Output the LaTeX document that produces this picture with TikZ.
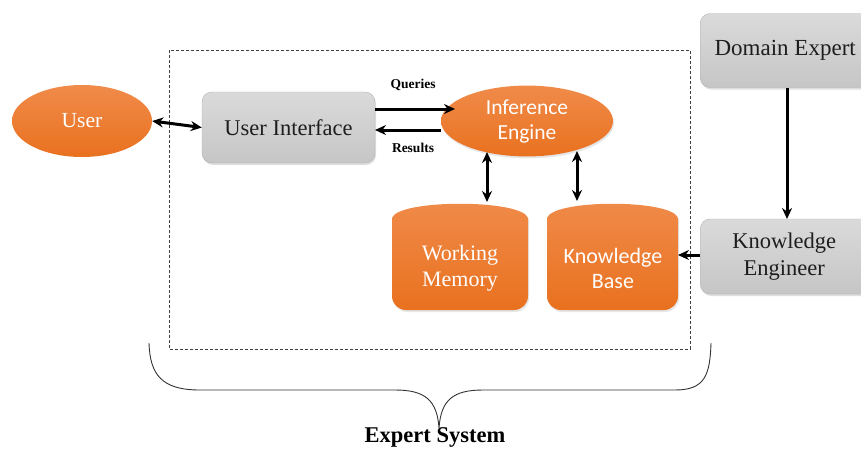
\documentclass[tikz,border=0pt]{standalone}
\usepackage{fontspec}
\setmainfont{Liberation Serif}
\newfontfamily\calfont{Carlito}
\usetikzlibrary{arrows.meta,shadows,shapes.geometric}
\definecolor{orng}{HTML}{ED7D31}
\definecolor{orngL}{HTML}{F08B4A}
\definecolor{orngD}{HTML}{E9711F}
\definecolor{grayT}{HTML}{DADADA}
\definecolor{grayB}{HTML}{C6C6C6}
\definecolor{txtD}{HTML}{1E1E1E}
\tikzset{
  graybox/.style={rounded corners=10pt, top color=grayT, bottom color=grayB, draw=grayB!90!black,
    line width=0.4pt, text=txtD, font=\fontsize{22.5}{26}\selectfont, align=center,
    drop shadow={opacity=0.25, shadow xshift=1pt, shadow yshift=-2pt}},
  orell/.style={ellipse, top color=orngL, bottom color=orngD, draw=none, text=white, align=center},
  arr/.style={line width=3pt, -{Stealth[length=11pt,width=10pt]}},
  darr/.style={line width=3pt, {Stealth[length=11pt,width=10pt]}-{Stealth[length=11pt,width=10pt]}},
  lbl/.style={font=\bfseries\fontsize{13.5}{15}\selectfont, text=black},
  cyl/.style={top color=orngL, bottom color=orngD, draw=none,
    drop shadow={opacity=0.2, shadow xshift=1pt, shadow yshift=-2pt}},
}
\begin{document}
\begin{tikzpicture}[x=1pt,y=-1pt]
\useasboundingbox (0,0) rectangle (861,450);
\clip (0,0) rectangle (861,450);
% dashed system boundary
\draw[dashed, dash pattern=on 3pt off 2pt, line width=0.8pt, draw=black!75] (169,50) rectangle (690,349);
% User
\node[orell, minimum width=140pt, minimum height=72pt, font=\fontsize{21.5}{25}\selectfont] (user) at (82,121) {User};
% User interface
\node[graybox, minimum width=173pt, minimum height=71pt] (ui) at (288.5,127.5) {User Interface};
% Inference engine
\node[orell, minimum width=172pt, minimum height=58pt, font=\calfont\fontsize{21.5}{25}\selectfont,
  drop shadow={opacity=0.2, shadow xshift=1pt, shadow yshift=-2pt}] (ie) at (527,121) {Inference\\[0pt]Engine};
% Working memory cylinder
\path[cyl] (392,218) .. controls (398,199) and (522,199) .. (528,218) -- (528,296)
  arc[start angle=0,end angle=90,radius=14] -- (406,310) arc[start angle=90,end angle=180,radius=14] -- cycle;
\node[text=white, align=center, font=\fontsize{22}{26}\selectfont] (wm) at (460,268) {Working\\[0pt]Memory};
\coordinate (wmtop) at (487,202);
% Knowledge base cylinder
\path[cyl] (547,218) .. controls (553,199) and (672,199) .. (678,218) -- (678,296)
  arc[start angle=0,end angle=90,radius=14] -- (561,310) arc[start angle=90,end angle=180,radius=14] -- cycle;
\node[text=white, align=center, font=\calfont\fontsize{22}{26}\selectfont] (kb) at (613,268) {Knowledge\\[-1pt]Base};
\coordinate (kbtop) at (577,201);
\coordinate (kbright) at (678,255);
% Domain expert & knowledge engineer
\node[graybox, minimum width=180pt, minimum height=74pt, anchor=west, font=\fontsize{23}{27}\selectfont] (de) at (700,50.5) {\hspace*{-10pt}Domain Expert};
\node[graybox, minimum width=180pt, minimum height=75pt, anchor=west] (ke) at (700,256.5) {\hspace*{-12pt}\begin{tabular}{@{}c@{}}Knowledge\\[1pt]Engineer\end{tabular}};
% connectors
\draw[darr] (user.east) -- (ui.west);
\coordinate (q1) at (375,109);
\coordinate (q2) at (455,109);
\draw[arr] (q1) -- (q2);
\coordinate (r1) at (441,130);
\coordinate (r2) at (375,130);
\draw[arr] (r1) -- (r2);
\node[lbl] (qlab) at (413,85) {Queries};
\node[lbl] (rlab) at (413,148) {Results};
\coordinate (ie1) at (487,152);
\coordinate (ie2) at (577,151);
\draw[darr] (ie1) -- (wmtop);
\draw[darr] (ie2) -- (kbtop);
\coordinate (dearr) at (787,87.5);
\coordinate (kearr) at (787,219);
\draw[arr] (dearr) -- (kearr);
\draw[arr] (ke.west |- kbright) -- (kbright);
% brace
\draw[line width=0.9pt, draw=black!80] (149,343) .. controls (150,375) and (162,390) .. (200,390)
  -- (395,390) .. controls (425,390) and (437,400) .. (439,428)
  .. controls (441,400) and (453,390) .. (483,390) -- (675,390)
  .. controls (705,390) and (710,375) .. (711,343);
\node[font=\bfseries\fontsize{22.5}{26}\selectfont] (es) at (435,437) {Expert System};
\end{tikzpicture}
\end{document}
